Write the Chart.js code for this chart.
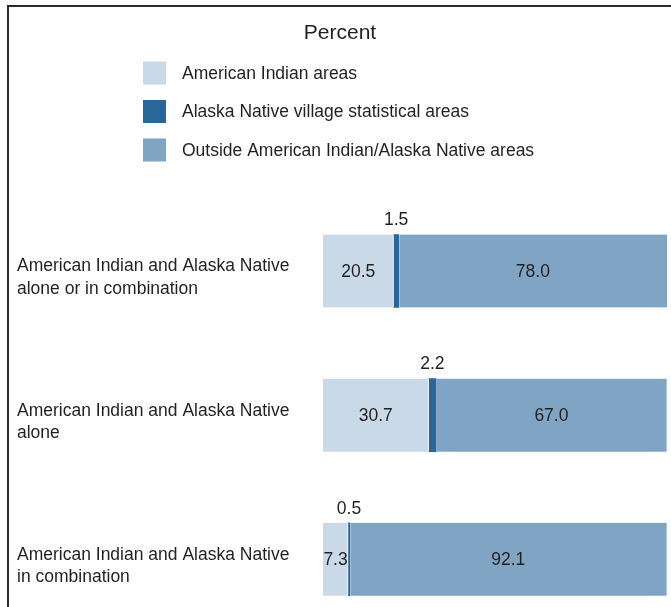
<!DOCTYPE html>
<html>
<head>
<meta charset="utf-8">
<script src="https://cdn.jsdelivr.net/npm/chart.js@4.4.0/dist/chart.umd.min.js"></script>
<style>
html, body { margin: 0; padding: 0; background: #fff; overflow: hidden; }
#wrap { position: relative; width: 671px; height: 657px; }
#chart { display: block; }
#frame { position: absolute; left: 7px; top: 5px; width: 720px; height: 720px;
         border-top: 2px solid #2b2b2b; border-left: 2px solid #2b2b2b; pointer-events: none; }
</style>
</head>
<body>
<div id="wrap"><canvas id="chart" width="671" height="657"></canvas><div id="frame"></div></div>
<script>
// data
var categories = [
    ['American Indian and Alaska Native', 'alone or in combination'],
    ['American Indian and Alaska Native', 'alone'],
    ['American Indian and Alaska Native', 'in combination']
];
var seriesNames = [
    'American Indian areas',
    'Alaska Native village statistical areas',
    'Outside American Indian/Alaska Native areas'
];
var aiAreas = [20.5, 30.7, 7.3];
var anvsaAreas = [1.5, 2.2, 0.5];
var outsideAreas = [78.0, 67.0, 92.1];
var titleText = 'Percent';

var colors = ['#c9d9e7', '#29669a', '#80a4c3'];
var textColor = '#231f20';
var fontFamily = "'Liberation Sans', Arial, sans-serif";

// white hairline between segments, kept off the thin dark one
var segBorders = [
    {left: 0, right: 1, top: 0, bottom: 0},
    0,
    {left: 1, right: 0, top: 0, bottom: 0}
];

function makeSet(i, values) {
    return {
        label: seriesNames[i],
        data: values,
        backgroundColor: colors[i],
        borderColor: '#ffffff',
        borderWidth: segBorders[i],
        borderSkipped: false,
        barThickness: 73
    };
}

// title + vertical legend drawn at the top
var headerPlugin = {
    id: 'header',
    afterDraw: function (chart) {
        var ctx = chart.ctx;
        ctx.save();
        ctx.fillStyle = textColor;
        ctx.font = '21px ' + fontFamily;
        ctx.textAlign = 'center';
        ctx.textBaseline = 'middle';
        ctx.fillText(titleText, 340, 33);

        ctx.font = '17.5px ' + fontFamily;
        ctx.textAlign = 'left';
        chart.data.datasets.forEach(function (ds, i) {
            var cy = 73 + i * 38.5;
            ctx.fillStyle = ds.backgroundColor;
            ctx.fillRect(143, cy - 11.5, 23, 23);
            ctx.fillStyle = textColor;
            ctx.fillText(ds.label, 182, cy + 1);
        });
        ctx.restore();
    }
};

// value labels in and above the bars
var valuePlugin = {
    id: 'values',
    afterDatasetsDraw: function (chart) {
        var ctx = chart.ctx;
        ctx.save();
        ctx.fillStyle = textColor;
        ctx.font = '17.5px ' + fontFamily;
        ctx.textAlign = 'center';
        ctx.textBaseline = 'middle';
        chart.data.datasets.forEach(function (ds, i) {
            var meta = chart.getDatasetMeta(i);
            meta.data.forEach(function (bar, j) {
                var v = ds.data[j].toFixed(1);
                var cx = (bar.x + bar.base) / 2;
                if (i === 1) {
                    ctx.fillText(v, cx, bar.y - bar.height / 2 - 14);
                } else {
                    ctx.fillText(v, cx, bar.y + 1);
                }
            });
        });
        ctx.restore();
    }
};

var chart = new Chart(document.getElementById('chart').getContext('2d'), {
    type: 'bar',
    data: {
        labels: categories,
        datasets: [makeSet(0, aiAreas), makeSet(1, anvsaAreas), makeSet(2, outsideAreas)]
    },
    options: {
        indexAxis: 'y',
        responsive: false,
        animation: false,
        layout: {padding: {top: 199, left: 17, right: 4, bottom: 10}},
        plugins: {
            legend: {display: false},
            title: {display: false},
            tooltip: {enabled: false}
        },
        scales: {
            x: {
                stacked: true,
                display: false,
                min: 0,
                max: 100
            },
            y: {
                stacked: true,
                grid: {display: false},
                border: {display: false},
                afterFit: function (axis) { axis.width = 306; },
                ticks: {
                    crossAlign: 'far',
                    color: textColor,
                    labelOffset: 7,
                    font: {family: fontFamily, size: 17.5, lineHeight: 1.3}
                }
            }
        }
    },
    plugins: [headerPlugin, valuePlugin]
});
</script>
</body>
</html>
